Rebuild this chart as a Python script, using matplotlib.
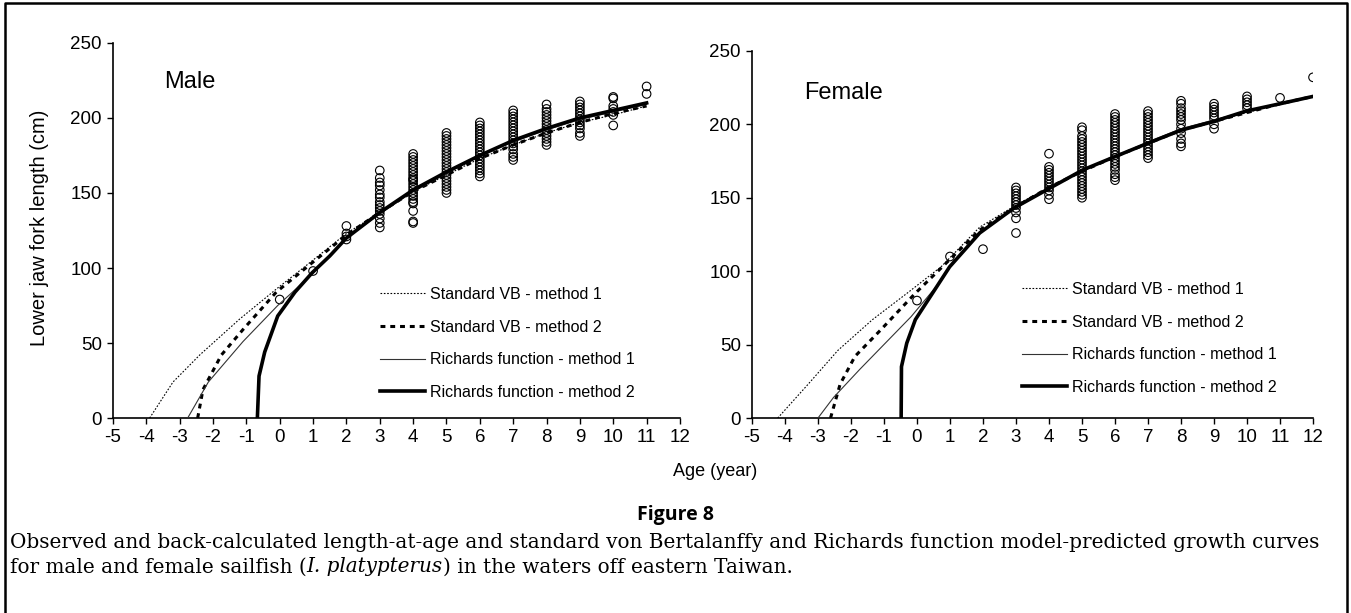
import matplotlib
matplotlib.use("Agg")
import matplotlib.pyplot as plt
from matplotlib.lines import Line2D

# ---- データ ----
# 雄: 観測値（年齢, 体長）
male_age_obs = [0, 1, 2, 2, 2, 2,
                3, 3, 3, 3, 3, 3, 3, 3, 3, 3, 3, 3, 3, 3, 3,
                4, 4, 4, 4, 4, 4, 4, 4, 4, 4, 4, 4, 4, 4, 4, 4, 4, 4, 4, 4, 4, 4,
                5, 5, 5, 5, 5, 5, 5, 5, 5, 5, 5, 5, 5, 5, 5, 5, 5, 5, 5, 5, 5,
                6, 6, 6, 6, 6, 6, 6, 6, 6, 6, 6, 6, 6, 6, 6, 6, 6, 6, 6,
                7, 7, 7, 7, 7, 7, 7, 7, 7, 7, 7, 7, 7, 7, 7, 7, 7,
                8, 8, 8, 8, 8, 8, 8, 8, 8, 8, 8, 8, 8, 8,
                9, 9, 9, 9, 9, 9, 9, 9, 9, 9, 9, 9,
                10, 10, 10, 10, 10, 10, 10,
                11, 11]
male_len_obs = [79, 98, 128, 123, 121, 119,
                165, 160, 157, 155, 152, 149, 147, 144, 142, 140, 138, 136, 133, 130, 127,
                176, 174, 172, 170, 168, 166, 164, 162, 160, 158, 156, 154, 152, 150, 148, 146, 144, 138, 131, 130, 143, 159,
                190, 188, 186, 184, 182, 180, 178, 176, 174, 172, 170, 168, 166, 164, 162, 160, 158, 156, 154, 152, 150,
                197, 195, 193, 191, 189, 187, 185, 183, 181, 179, 177, 175, 173, 171, 169, 167, 165, 163, 161,
                205, 203, 201, 199, 197, 195, 193, 191, 189, 187, 185, 183, 181, 179, 176, 174, 172,
                209, 206, 204, 202, 200, 198, 196, 194, 192, 190, 188, 186, 184, 182,
                211, 209, 207, 205, 203, 201, 199, 197, 195, 193, 190, 188,
                214, 213, 208, 206, 204, 202, 195,
                221, 216]

# 雌: 観測値
female_age_obs = [0, 1, 2,
                  3, 3, 3, 3, 3, 3, 3, 3, 3, 3, 3,
                  4, 4, 4, 4, 4, 4, 4, 4, 4, 4, 4, 4,
                  5, 5, 5, 5, 5, 5, 5, 5, 5, 5, 5, 5, 5, 5, 5, 5, 5, 5, 5, 5, 5, 5, 5, 5,
                  6, 6, 6, 6, 6, 6, 6, 6, 6, 6, 6, 6, 6, 6, 6, 6, 6, 6, 6, 6, 6, 6, 6,
                  7, 7, 7, 7, 7, 7, 7, 7, 7, 7, 7, 7, 7, 7, 7, 7, 7,
                  8, 8, 8, 8, 8, 8, 8, 8, 8, 8, 8, 8, 8,
                  9, 9, 9, 9, 9, 9, 9, 9,
                  10, 10, 10, 10, 10,
                  11, 12]
female_len_obs = [80, 110, 115,
                  157, 155, 153, 151, 149, 147, 145, 143, 140, 136, 126,
                  180, 171, 169, 167, 165, 163, 161, 159, 157, 155, 152, 149,
                  198, 196, 192, 190, 188, 186, 184, 182, 180, 178, 176, 174, 172, 170, 168, 166, 164, 162, 160, 158, 156, 154, 152, 150,
                  207, 205, 203, 201, 199, 197, 195, 193, 191, 189, 187, 185, 183, 181, 179, 177, 175, 173, 171, 169, 166, 164, 162,
                  209, 207, 205, 203, 201, 199, 197, 195, 193, 191, 189, 187, 185, 183, 181, 179, 177,
                  216, 214, 211, 209, 207, 205, 203, 200, 197, 194, 190, 187, 185,
                  214, 212, 210, 208, 206, 204, 200, 197,
                  219, 217, 215, 213, 211,
                  218, 232]

# 雄: 成長曲線（図から読み取った点）
male_vb1_x = [-3.9, -3.2, -2.4, -1.2, -0.1, 0.7, 2.0, 3.0, 4.0, 5.0, 6.0, 7.0, 8.0, 9.0, 10.0, 11.0]
male_vb1_y = [0, 24, 42, 66, 86, 100, 123, 137, 151, 162, 173, 182, 190, 197, 202, 208]
male_vb2_x = [-2.46, -2.3, -1.75, -1.1, -0.1, 1.0, 2.0, 3.0, 4.0, 5.0, 6.0, 7.0, 8.0, 9.0, 10.0, 11.0]
male_vb2_y = [0, 19, 42, 59, 84, 104, 122, 137, 151, 162, 173, 182, 190, 197, 203, 208]
male_r1_x = [-2.76, -2.14, -1.1, -0.06, 0.98, 2.0, 3.0, 4.0, 5.0, 6.0, 7.0, 8.0, 9.0, 10.0, 11.0]
male_r1_y = [0, 24, 51, 75, 96, 120, 136, 151, 163, 175, 184, 192, 199, 204, 209]
male_r2_x = [-0.67, -0.62, -0.45, -0.06, 0.46, 0.98, 1.5, 2.0, 3.0, 4.0, 5.0, 6.0, 7.0, 8.0, 9.0, 10.0, 11.0]
male_r2_y = [0, 28, 44, 68, 84, 97, 108, 120, 137, 152, 164, 175, 185, 193, 200, 205, 210]

# 雌: 成長曲線
female_vb1_x = [-4.22, -3.3, -2.4, -1.35, -0.3, 0.73, 1.9, 3.0, 4.0, 5.0, 6.0, 7.0, 8.0, 9.0, 10.0, 11.0, 12.0]
female_vb1_y = [0, 23, 46, 67, 85, 103, 130, 145, 157, 168, 178, 187, 196, 202, 208, 214, 219]
female_vb2_x = [-2.62, -2.33, -1.88, -1.1, -0.05, 0.86, 1.9, 3.0, 4.0, 5.0, 6.0, 7.0, 8.0, 9.0, 10.0, 11.0, 12.0]
female_vb2_y = [0, 23, 42, 60, 85, 105, 128, 144, 157, 168, 178, 187, 196, 202, 208, 214, 219]
female_r1_x = [-3.0, -2.53, -1.74, -0.96, -0.18, 0.6, 1.1, 1.9, 3.0, 4.0, 5.0, 6.0, 7.0, 8.0, 9.0, 10.0, 11.0, 12.0]
female_r1_y = [0, 14, 33, 51, 69, 90, 106, 127, 143, 157, 168, 178, 188, 197, 203, 209, 214, 219]
female_r2_x = [-0.48, -0.47, -0.31, -0.05, 0.47, 0.99, 1.9, 2.94, 3.98, 5.03, 6.0, 6.98, 8.0, 9.0, 9.97, 11.0, 12.0]
female_r2_y = [0, 35, 51, 67, 85, 103, 126, 143, 156, 169, 178, 187, 196, 202, 209, 214, 219]

legend_labels = ["Standard VB - method 1", "Standard VB - method 2",
                 "Richards function - method 1", "Richards function - method 2"]
x_ticks = list(range(-5, 13))
y_ticks = [0, 50, 100, 150, 200, 250]

# ---- 描画 ----
SANS = ["Liberation Sans", "DejaVu Sans"]
plt.rcParams['font.family'] = SANS
plt.rcParams['axes.unicode_minus'] = False

fig = plt.figure(figsize=(13.51, 6.13), dpi=100)

ax_m = fig.add_axes([0.0836, 0.318, 0.4197, 0.612])
ax_f = fig.add_axes([0.5566, 0.318, 0.4153, 0.599])

styles = [dict(color="black", lw=0.8, ls=(0, (1.5, 1.5))),
          dict(color="black", lw=2.2, ls=(0, (1.6, 1.6))),
          dict(color="#333333", lw=0.8, ls="-"),
          dict(color="black", lw=2.6, ls="-")]

def draw_panel(ax, age, length, curves, title, title_xy):
    ax.scatter(age, length, s=38, facecolors="none", edgecolors="black", linewidths=0.8, zorder=3)
    for (cx, cy), st in zip(curves, styles):
        ax.plot(cx, cy, **st, zorder=4)
    ax.set_xlim(-5, 12)
    ax.set_ylim(0, 250)
    ax.set_xticks(x_ticks)
    ax.set_yticks(y_ticks)
    ax.tick_params(labelsize=13.5, length=4, width=1, direction="out", pad=4)
    for s in ["top", "right"]:
        ax.spines[s].set_visible(False)
    for s in ["left", "bottom"]:
        ax.spines[s].set_linewidth(1.2)
    ax.text(title_xy[0], title_xy[1], title, transform=ax.transAxes, fontsize=17,
            va="center")

draw_panel(ax_m, male_age_obs, male_len_obs,
           [(male_vb1_x, male_vb1_y), (male_vb2_x, male_vb2_y),
            (male_r1_x, male_r1_y), (male_r2_x, male_r2_y)],
           "Male", (0.09, 0.895))
draw_panel(ax_f, female_age_obs, female_len_obs,
           [(female_vb1_x, female_vb1_y), (female_vb2_x, female_vb2_y),
            (female_r1_x, female_r1_y), (female_r2_x, female_r2_y)],
           "Female", (0.093, 0.885))

handles = [Line2D([], [], **st) for st in styles]
leg_kw = dict(frameon=False, handlelength=2.8, handletextpad=0.3,
              labelspacing=1.1, loc="upper left", borderaxespad=0, borderpad=0,
              prop={"family": SANS, "size": 11.5})
ax_m.legend(handles, legend_labels, bbox_to_anchor=(380 / 1351, 1 - 287 / 613),
            bbox_transform=fig.transFigure, **leg_kw)
ax_f.legend(handles, legend_labels, bbox_to_anchor=(1022 / 1351, 1 - 282 / 613),
            bbox_transform=fig.transFigure, **leg_kw)

fig.text(40 / 1351, 1 - 228 / 613, "Lower jaw fork length (cm)", rotation=90,
         fontsize=14.5, ha="center", va="center")
fig.text(715 / 1351, 1 - 472 / 613, "Age (year)", fontsize=13,
         ha="center", va="center")

# ---- キャプション ----
fig.text(675 / 1351, 1 - 515 / 613, "Figure 8", fontsize=14, fontweight="bold",
         family=["Open Sans", "DejaVu Sans"], ha="center", va="center")
SERIF = ["DejaVu Serif"]
cap_size = 14.45
fig.text(10 / 1351, 1 - 543 / 613,
         "Observed and back-calculated length-at-age and standard von Bertalanffy and Richards function "
         "model-predicted growth curves",
         fontsize=cap_size, family=SERIF, ha="left", va="center")
renderer = fig.canvas.get_renderer()
y2 = 1 - 567 / 613
t1 = fig.text(10 / 1351, y2, "for male and female sailfish (", fontsize=cap_size,
              family=SERIF, ha="left", va="center")
bb = t1.get_window_extent(renderer)
t2 = fig.text(bb.x1 / fig.bbox.width, y2, "I. platypterus", fontsize=cap_size,
              family=SERIF, style="italic", ha="left", va="center")
bb = t2.get_window_extent(renderer)
fig.text(bb.x1 / fig.bbox.width, y2, ") in the waters off eastern Taiwan.",
         fontsize=cap_size, family=SERIF, ha="left", va="center")

# ---- 外枠（下辺なし） ----
frame_x = [5 / 1351, 5 / 1351, 1347 / 1351, 1347 / 1351]
frame_y = [0, 1 - 3 / 613, 1 - 3 / 613, 0]
fig.add_artist(Line2D(frame_x, frame_y, color="black", lw=1.8, transform=fig.transFigure))

fig.savefig("out.png", dpi=100)
